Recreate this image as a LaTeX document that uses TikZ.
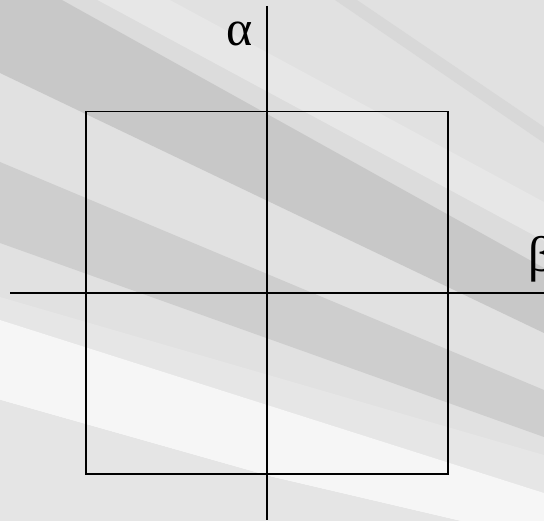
\documentclass[tikz,border=0pt]{standalone}
\usepackage{fontspec}
\setmainfont{Liberation Serif}
\definecolor{bgbase}{HTML}{E1E1E1}
\definecolor{bglight}{HTML}{E7E7E7}
\definecolor{bgmid}{HTML}{DCDCDC}
\definecolor{bgthin}{HTML}{D8D8D8}
\definecolor{banda}{HTML}{C8C8C8}
\definecolor{bandb}{HTML}{CECECE}
\definecolor{bgpale}{HTML}{E6E6E6}
\definecolor{bgwhite}{HTML}{F6F6F6}
\definecolor{bglow}{HTML}{E5E5E5}
\begin{document}
\begin{tikzpicture}[x=1pt,y=-1pt,
  axisline/.style={line width=1.6pt,draw=black},
  frame/.style={draw=black,line width=1.8pt,minimum size=362pt,inner sep=0pt},
  lbl/.style={font=\fontsize{50}{50}\selectfont,inner sep=0pt,anchor=base west,text=black}]
\useasboundingbox (0,0) rectangle (544,521);
% background stripes
\fill[bgbase] (0,0) rectangle (544,521);
\fill[bglight] (97,0) -- (170,0) -- (544,202) -- (544,241) -- cycle;
\fill[bgmid] (62,0) -- (97,0) -- (544,241) -- (544,268) -- cycle;
\fill[bgthin] (335,0) -- (357,0) -- (544,127) -- (544,143) -- cycle;
\fill[banda] (0,0) -- (62,0) -- (544,268) -- (544,333) -- (0,73) -- cycle;
\fill[bandb] (0,162) -- (544,390) -- (544,437) -- (0,243) -- cycle;
\fill[bgpale] (0,297) -- (544,455) -- (544,493) -- (0,320) -- cycle;
\fill[bgwhite] (0,320) -- (544,493) -- (544,521) -- (460,521) -- (272,477) -- (0,400) -- cycle;
\fill[bglow] (0,400) -- (272,477) -- (460,521) -- (0,521) -- cycle;
% square and axes
\node[frame] (sq) at (267.2,292.6) {};
\coordinate (vt) at (267,6);
\coordinate (vb) at (267,520);
\coordinate (hl) at (10,293);
\coordinate (hr) at (544,293);
\draw[axisline] (vt) -- (vb);
\draw[axisline] (hl) -- (hr);
\node[lbl] (alpha) at (226,46) {α};
\node[lbl] (beta) at (528,272) {β};
\end{tikzpicture}
\end{document}
